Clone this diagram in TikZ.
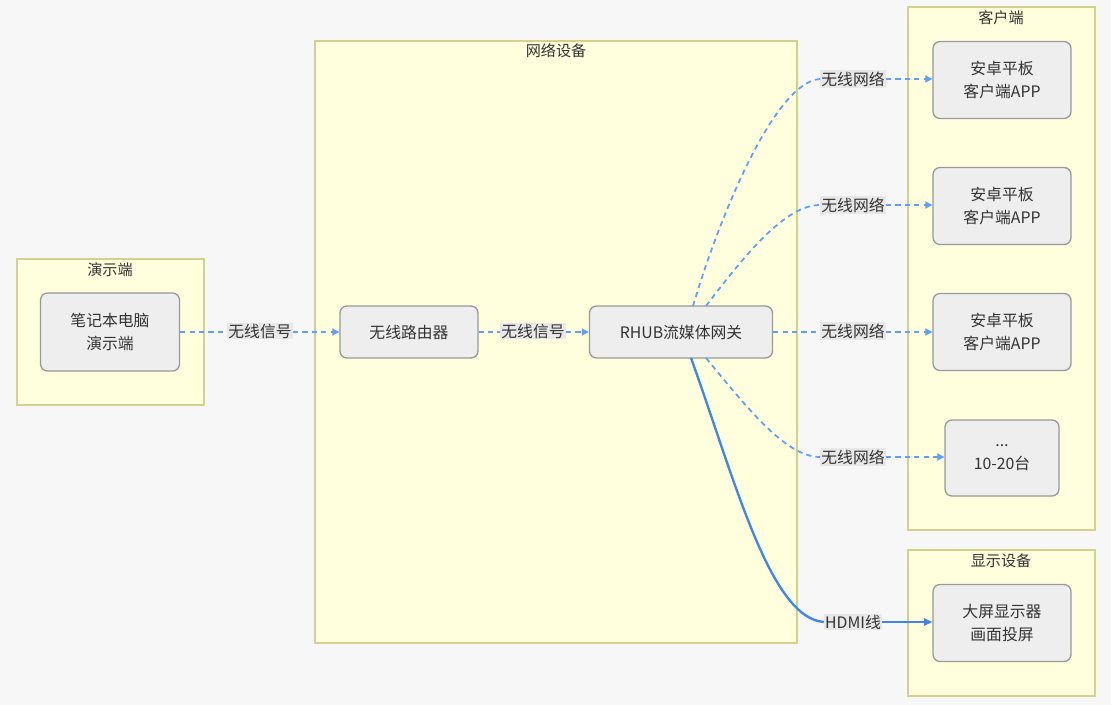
\documentclass[tikz,border=0pt]{standalone}
\usepackage{fontspec}
\setmainfont{Noto Sans CJK SC}
\usetikzlibrary{arrows.meta}

\definecolor{bgc}{HTML}{F7F7F7}
\definecolor{grpfill}{HTML}{FFFFDE}
\definecolor{grpline}{HTML}{D2D28C}
\definecolor{boxfill}{HTML}{EEEEEE}
\definecolor{boxline}{HTML}{999999}
\definecolor{wifi}{HTML}{5EA0F7}
\definecolor{hdmi}{HTML}{3F86EE}
\definecolor{txt}{HTML}{333333}
\definecolor{lblfill}{HTML}{E8E8E8}

\tikzset{
  grp/.style={draw=grpline, fill=grpfill, line width=0.9pt},
  grptitle/.style={text=txt, font=\fontsize{12.9}{15}\selectfont},
  box/.style={draw=boxline, fill=boxfill, rounded corners=6pt, line width=1.1pt,
    text=txt, align=center, font=\fontsize{13.5}{19.5}\selectfont},
  lbl/.style={fill=lblfill, text=txt, inner sep=1pt, font=\fontsize{13.5}{15}\selectfont},
  wline/.style={wifi, dashed, dash pattern=on 4.5pt off 3.5pt, line width=1.5pt},
  wtip/.style={wline, -{Triangle[length=6pt,width=6pt]}},
  hline/.style={hdmi, line width=2pt},
}

\begin{document}
\begin{tikzpicture}[x=0.03cm, y=-0.03cm]

\fill [bgc] (0,0) rectangle (1111,705);
\useasboundingbox (0,0) rectangle (1111,705);

% groups
\draw [grp] (17,259) rectangle (204,405);
\node [grptitle] (tshow) at (110,270) {演示端};
\draw [grp] (315,41) rectangle (797,643);
\node [grptitle] (tnet) at (556,51) {网络设备};
\draw [grp] (908,7) rectangle (1095,530);
\node [grptitle] (tclient) at (1001,18) {客户端};
\draw [grp] (908,550) rectangle (1095,696);
\node [grptitle] (tdisp) at (1001,561) {显示设备};

% boxes
\node [box, minimum width=4.17cm, minimum height=2.34cm] (pc) at (110,332) {笔记本电脑\\演示端};
\node [box, minimum width=4.14cm, minimum height=1.56cm] (router) at (409,332) {无线路由器};
\node [box, minimum width=5.49cm, minimum height=1.56cm] (rhub) at (681,332) {RHUB流媒体网关};
\node [box, minimum width=4.14cm, minimum height=2.31cm] (c1) at (1002,80) {安卓平板\\客户端APP};
\node [box, minimum width=4.14cm, minimum height=2.31cm] (c2) at (1002,206) {安卓平板\\客户端APP};
\node [box, minimum width=4.14cm, minimum height=2.31cm] (c3) at (1002,332) {安卓平板\\客户端APP};
\node [box, minimum width=3.42cm, minimum height=2.28cm] (cn) at (1002,458) {...\\10-20台};
\node [box, minimum width=4.14cm, minimum height=2.31cm] (screen) at (1002,623) {大屏显示器\\画面投屏};

% labels
\node [lbl] (s1) at (260,331) {无线信号};
\node [lbl] (s2) at (533,331) {无线信号};
\node [lbl] (w1) at (853,79) {无线网络};
\node [lbl] (w2) at (853,205) {无线网络};
\node [lbl] (w3) at (853,331) {无线网络};
\node [lbl] (w4) at (853,457) {无线网络};
\node [lbl] (hd) at (853,622) {HDMI线};

\coordinate (r1) at (693,306);
\coordinate (r2) at (706,306);
\coordinate (r4) at (706,358);
\coordinate (r5) at (691,358);

% wireless links
\draw [wline] (pc.east) -- (pc.east -| s1.west);
\draw [wtip] (pc.east -| s1.east) -- (router.west);
\draw [wline] (router.east) -- (router.east -| s2.west);
\draw [wtip] (router.east -| s2.east) -- (rhub.west);

\draw [wline] (r1) .. controls (720,215) and (775,82) .. (w1.west);
\draw [wtip] (w1.east) -- (w1.east -| c1.west);
\draw [wline] (r2) .. controls (745,255) and (785,205) .. (w2.west);
\draw [wtip] (w2.east) -- (w2.east -| c2.west);
\draw [wline] (rhub.east) -- (rhub.east -| w3.west);
\draw [wtip] (rhub.east -| w3.east) -- (c3.west);
\draw [wline] (r4) .. controls (745,405) and (785,457) .. (w4.west);
\draw [wtip] (w4.east) -- (w4.east -| cn.west);

% hdmi
\draw [hline] (r5) .. controls (735,480) and (770,618) .. (hd.west);
\draw [hline, -{Triangle[length=7pt,width=6pt]}] (hd.east) -- (hd.east -| screen.west);

\end{tikzpicture}
\end{document}
